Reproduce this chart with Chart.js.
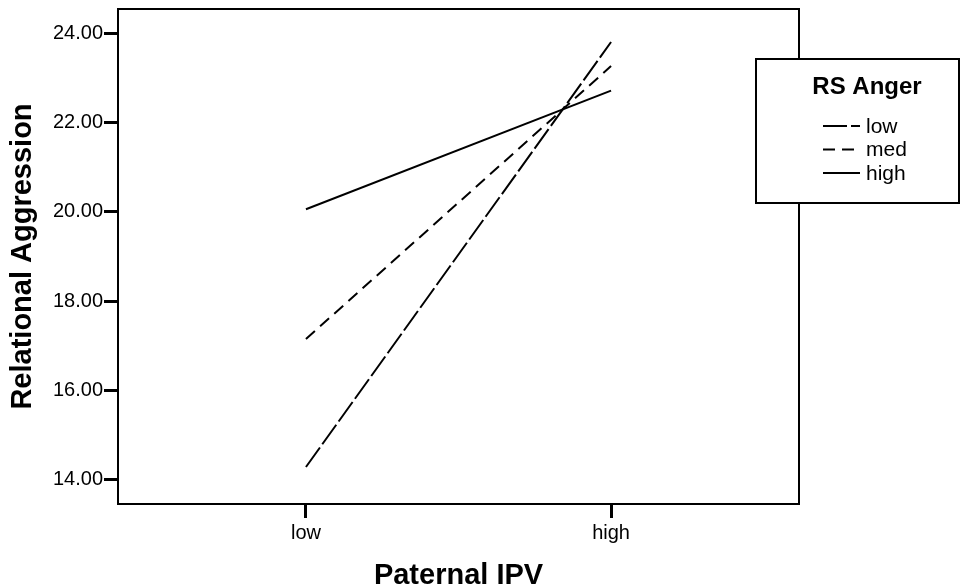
<!DOCTYPE html>
<html>
<head>
<meta charset="utf-8">
<script src="https://cdn.jsdelivr.net/npm/chart.js@4"></script>
<style>
  html, body { margin: 0; padding: 0; background: #fff; }
  #wrap { width: 961px; height: 588px; }
</style>
</head>
<body>
<div id="wrap"><canvas id="c" width="961" height="588"></canvas></div>
<script>
// ---- data ----
const categories = ['low', 'high'];            // Paternal IPV
const seriesNames = ['low', 'med', 'high'];    // RS Anger
const lowValues  = [14.28, 23.81];
const medValues  = [17.15, 23.27];
const highValues = [20.06, 22.72];
const yTickValues = [14, 16, 18, 20, 22, 24];

const xTitle = 'Paternal IPV';
const yTitle = 'Relational Aggression';
const legendTitle = 'RS Anger';

const FONT = "'Liberation Sans', Arial, sans-serif";
const dashes = [[24, 4], [12, 7], []];
const seriesValues = [lowValues, medValues, highValues];

const datasets = seriesNames.map((name, k) => ({
  label: name,
  data: seriesValues[k].map((v, i) => ({ x: i + 1, y: v })),
  borderColor: '#000',
  borderWidth: 2,
  borderDash: dashes[k],
  pointRadius: 0,
  fill: false,
  tension: 0
}));

const framePlugin = {
  id: 'frameLegend',
  afterDraw(chart) {
    const ctx = chart.ctx;
    const a = chart.chartArea;
    ctx.save();
    ctx.strokeStyle = '#000';
    ctx.lineWidth = 2;
    ctx.beginPath();
    ctx.moveTo(a.left - 1, a.top);
    ctx.lineTo(a.right, a.top);
    ctx.lineTo(a.right, a.bottom + 1);
    ctx.stroke();

    // legend box
    const bx = 756, by = 59, bw = 203, bh = 144;
    ctx.fillStyle = '#fff';
    ctx.fillRect(bx, by, bw, bh);
    ctx.strokeRect(bx, by, bw, bh);
    ctx.fillStyle = '#000';
    ctx.font = 'bold 24px ' + FONT;
    ctx.textAlign = 'center';
    ctx.textBaseline = 'middle';
    ctx.fillText(legendTitle, 867, 87);
    ctx.font = '21px ' + FONT;
    ctx.textAlign = 'left';
    chart.data.datasets.forEach((ds, i) => {
      const y = 126 + i * 23.5;
      ctx.beginPath();
      ctx.setLineDash(ds.borderDash || []);
      ctx.lineWidth = 2;
      ctx.moveTo(823, y);
      ctx.lineTo(860, y);
      ctx.stroke();
      ctx.setLineDash([]);
      ctx.fillText(ds.label, 866, y + 1);
    });
    ctx.restore();
  }
};

new Chart(document.getElementById('c'), {
  type: 'line',
  data: { datasets },
  plugins: [framePlugin],
  options: {
    responsive: false,
    animation: false,
    devicePixelRatio: 1,
    layout: { padding: { top: 9, right: 162, left: 0, bottom: 0 } },
    plugins: { legend: { display: false }, tooltip: { enabled: false } },
    scales: {
      x: {
        type: 'linear',
        min: 0.384,
        max: 2.616,
        afterBuildTicks: s => { s.ticks = categories.map((c, i) => ({ value: i + 1 })); },
        afterFit: s => { s.height = 84; s.paddingLeft = 0; s.paddingRight = 0; },
        ticks: {
          callback: v => categories[Math.round(v) - 1] || '',
          color: '#000',
          font: { family: FONT, size: 20 },
          padding: 3,
          maxRotation: 0
        },
        grid: { drawOnChartArea: false, drawTicks: true, tickLength: 14, tickWidth: 3, tickColor: '#000' },
        border: { display: true, color: '#000', width: 2 },
        title: {
          display: true, text: xTitle, color: '#000',
          font: { family: FONT, size: 29, weight: 'bold', lineHeight: 0.8 },
          padding: { top: 0, bottom: 0 }
        }
      },
      y: {
        min: 13.45,
        max: 24.55,
        afterBuildTicks: s => { s.ticks = yTickValues.map(v => ({ value: v })); },
        afterFit: s => { s.width = 118; s.paddingTop = 0; s.paddingBottom = 0; },
        ticks: {
          callback: v => Number(v).toFixed(2),
          color: '#000',
          font: { family: FONT, size: 20 },
          padding: 1
        },
        grid: { drawOnChartArea: false, drawTicks: true, tickLength: 14, tickWidth: 3, tickColor: '#000' },
        border: { display: true, color: '#000', width: 2 },
        title: {
          display: true, text: yTitle, color: '#000',
          font: { family: FONT, size: 29, weight: 'bold' },
          padding: { top: 6, bottom: 0 }
        }
      }
    }
  }
});
</script>
</body>
</html>
